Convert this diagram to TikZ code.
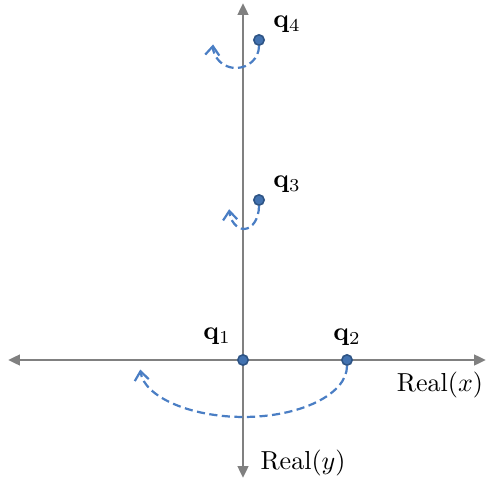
\documentclass[tikz,border=0pt]{standalone}
\usepackage{amsmath}
\usetikzlibrary{arrows.meta,positioning}
\definecolor{axisgray}{HTML}{808080}
\definecolor{dotblue}{HTML}{4272B0}
\definecolor{dotedge}{HTML}{2E5485}
\definecolor{pathblue}{HTML}{4A7EC4}

\begin{document}
\begin{tikzpicture}[x=0.0135cm,y=-0.0135cm,
  axisline/.style={draw=axisgray,line width=1.1pt,{Triangle[length=1.6mm,width=1.4mm]}-{Triangle[length=1.6mm,width=1.4mm]}},
  pole/.style={circle,fill=dotblue,draw=dotedge,line width=0.6pt,minimum size=1.4mm,inner sep=0pt},
  swap/.style={draw=pathblue,line width=0.85pt,dash pattern=on 1.1mm off 0.6mm,-{Straight Barb[length=1.2mm,width=1.9mm]}},
  lab/.style={inner sep=1pt}]
\useasboundingbox (0,0) rectangle (486,479);
% axes
\coordinate (xl) at (8,360);
\coordinate (xr) at (486,360);
\coordinate (yt) at (243,3);
\coordinate (yb) at (243,478);
\draw[axisline] (xl)--(xr);
\draw[axisline] (yb)--(yt);
% poles
\node[pole] (q1) at (243,360) {};
\node[pole] (q2) at (347,360) {};
\node[pole] (q3) at (259,200) {};
\node[pole] (q4) at (259,40) {};
\node[lab] (l1) at (217,336) {$\mathbf{q}_1$};
\node[lab] (l2) at (347,337) {$\mathbf{q}_2$};
\node[lab] (l3) at (287,184) {$\mathbf{q}_3$};
\node[lab] (l4) at (287,24) {$\mathbf{q}_4$};
\node[lab] (rx) at (440,385) {Real$(x)$};
\node[lab] (ry) at (303,463) {Real$(y)$};
% swaps
\draw[swap] (q2.south) arc[start angle=0,end angle=176,x radius=103.5,y radius=51];
\draw[swap] (q3.south) arc[start angle=0,end angle=172,x radius=15,y radius=23];
\draw[swap] (q4.south) arc[start angle=0,end angle=184,x radius=23,y radius=22];
\end{tikzpicture}
\end{document}
